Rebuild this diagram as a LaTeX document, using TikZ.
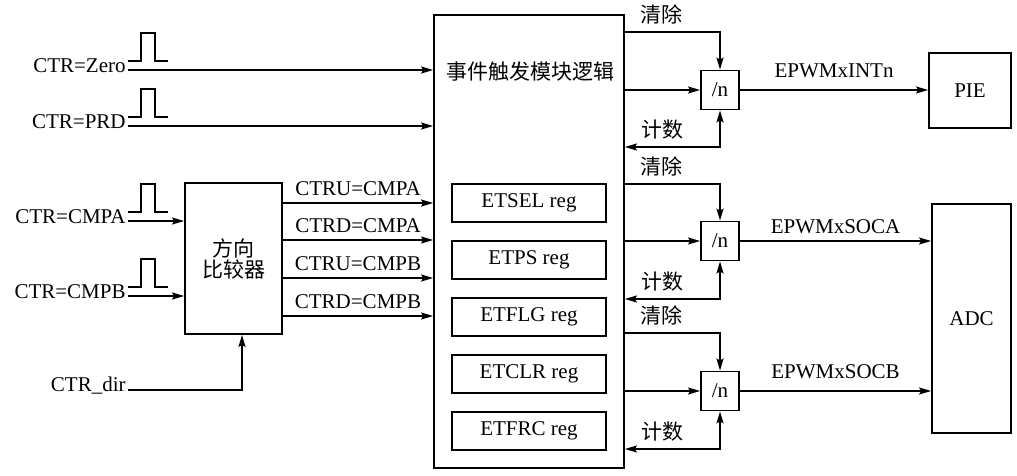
\documentclass[tikz,border=0pt]{standalone}
\usepackage{fontspec}
\setmainfont{Liberation Serif}
\newfontfamily\cjk{Noto Sans CJK SC}
\usetikzlibrary{positioning, arrows.meta}

\begin{document}
\begin{tikzpicture}[
    x=0.5pt, y=-0.5pt,
    font=\fontsize{10.5}{12}\selectfont,
    block/.style={rectangle, draw, line width=0.9pt, inner sep=0pt, align=center},
    regbox/.style={block, minimum width=77pt, minimum height=19pt},
    divbox/.style={block, minimum width=19pt, minimum height=19.5pt},
    arrow/.style={-{Stealth[length=6pt, width=3.5pt, inset=1pt]}, line width=0.9pt},
    dualarrow/.style={{Stealth[length=6pt, width=3.5pt, inset=1pt]}-{Stealth[length=6pt, width=3.5pt, inset=1pt]}, line width=0.9pt},
    wire/.style={line width=0.9pt},
    sig/.style={inner sep=1pt},
    cn/.style={font=\cjk\fontsize{10.5}{10.5}\selectfont}
]
\useasboundingbox (0,0) rectangle (1017,476);
% --- Bloque principal ---
\node[block, minimum width=95pt, minimum height=226.5pt] (logic) at (529,241.5) {};
\node[cn] (title) at (530,72) {事件触发模块逻辑};
\foreach \r [count=\i from 0] in {ETSEL, ETPS, ETFLG, ETCLR, ETFRC}
    \node[regbox] (\r) at (529,203+57*\i) {\r\ reg};
% --- Divisores ---
\node[divbox] (div1) at (720,90) {/n};
\node[divbox] (div2) at (720,241) {/n};
\node[divbox] (div3) at (720,391) {/n};
% --- Destinos ---
\node[block, minimum width=41pt, minimum height=37.5pt] (pie) at (970,90.5) {PIE};
\node[block, minimum width=39.5pt, minimum height=114.5pt] (adc) at (971.5,318.5) {ADC};
% --- Comparador ---
\node[block, cn, minimum width=48.5pt, minimum height=75.5pt] (cmp) at (233.5,258.5) {方向\\比较器};
% --- Entradas ---
\foreach \n/\y/\t/\b in {zero/70/CTR=Zero/logic, prd/126/CTR=PRD/logic,
                         cmpa/221/CTR=CMPA/cmp, cmpb/296/CTR=CMPB/cmp} {
    \coordinate (\n) at (128,\y);
    \node[sig, anchor=east] (\n-lbl) at ([yshift=2pt]\n) {\t};
    \draw[arrow] (\n) -- (\b.west |- \n);
    \draw[wire] (\n) ++(0,-9) -- ++(13,0) -- ++(0,-28) -- ++(14,0) -- ++(0,28) -- ++(13,0);
}
\coordinate (dirin) at (128,390);
\node[sig, anchor=east] (dir-lbl) at ([yshift=2pt]dirin) {CTR\_dir};
\draw[arrow] (dirin) -| ([xshift=4.25pt]cmp.south);
% --- Salidas del comparador ---
\foreach \y/\t in {203/CTRU=CMPA, 240/CTRD=CMPA, 278/CTRU=CMPB, 316/CTRD=CMPB}
    \draw[arrow] (cmp.east |- 0,\y) -- node[above] {\t} (logic.west |- 0,\y);
% --- Borrar / contar ---
\foreach \d/\c/\k in {div1/32/147, div2/184/299, div3/333/449} {
    \draw[arrow] (logic.east |- 0,\c) -| node[cn, pos=0.19, above] {清除} (\d.north);
    \draw[dualarrow] (\d.south) |- node[cn, pos=0.8, above] {计数} (logic.east |- 0,\k);
    \draw[arrow] (logic.east |- \d) -- (\d.west);
}
% --- Salidas ---
\draw[arrow] (div1.east) -- node[above, yshift=2.5pt] {EPWMxINTn} (pie.west |- div1);
\draw[arrow] (div2.east) -- node[above] {EPWMxSOCA} (adc.west |- div2);
\draw[arrow] (div3.east) -- node[above, yshift=2.5pt] {EPWMxSOCB} (adc.west |- div3);
\end{tikzpicture}
\end{document}
